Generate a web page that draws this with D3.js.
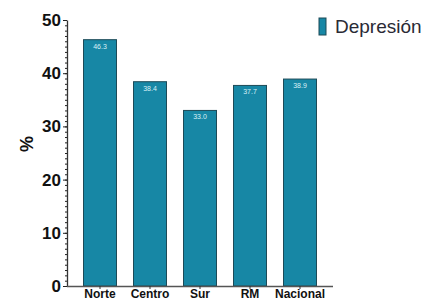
<!DOCTYPE html>
<html>
<head>
<meta charset="utf-8">
<script src="https://cdn.jsdelivr.net/npm/d3@7"></script>
<style>
  body { margin: 0; background: #fff; }
  svg { display: block; font-family: "Liberation Sans", Arial, sans-serif; }
</style>
</head>
<body>
<svg width="431" height="301"></svg>
<script>
// data
var regions = ['Norte', 'Centro', 'Sur', 'RM', 'Nacional'];
var depresion = [46.3, 38.4, 33.0, 37.7, 38.9];
var yTicks = [0, 10, 20, 30, 40, 50];

var svg = d3.select('svg');

var x = d3.scaleBand()
    .domain(regions)
    .range([75, 325])
    .paddingInner(0.34)
    .paddingOuter(0.17);

var y = d3.scaleLinear()
    .domain([0, 50])
    .range([286, 20]);

// minor ticks, every 1 %
svg.append('g')
    .attr('transform', 'translate(67,0)')
    .call(d3.axisLeft(y).tickValues(d3.range(0, 51, 1)).tickSize(2).tickFormat(''))
    .call(function (g) { g.select('.domain').remove(); })
    .selectAll('line').attr('stroke', '#222');

// y axis
var yAxis = svg.append('g')
    .attr('transform', 'translate(67,0)')
    .call(d3.axisLeft(y).tickValues(yTicks).tickSize(4).tickPadding(2).tickSizeOuter(0));
yAxis.select('.domain').attr('stroke', '#333').attr('stroke-width', 1.3);
yAxis.selectAll('.tick line').attr('stroke', '#222');
yAxis.selectAll('.tick text')
    .attr('font-size', 17)
    .attr('font-weight', 'bold')
    .attr('fill', '#111')
    .attr('font-family', '"Liberation Sans", Arial, sans-serif');

svg.append('text')
    .attr('transform', 'translate(33,144) rotate(-90)')
    .attr('text-anchor', 'middle')
    .attr('font-size', 18)
    .attr('font-weight', 'bold')
    .attr('fill', '#111')
    .text('%');

// bars
svg.append('g').selectAll('rect')
    .data(depresion)
    .join('rect')
    .attr('x', function (d, i) { return x(regions[i]); })
    .attr('y', function (d) { return y(d); })
    .attr('width', x.bandwidth())
    .attr('height', function (d) { return y(0) - y(d); })
    .attr('fill', '#1787a5')
    .attr('stroke', '#1d4a57')
    .attr('stroke-width', 1);

// value labels
svg.append('g').selectAll('text')
    .data(depresion)
    .join('text')
    .attr('x', function (d, i) { return x(regions[i]) + x.bandwidth() / 2; })
    .attr('y', function (d) { return y(d) + 9; })
    .attr('text-anchor', 'middle')
    .attr('font-size', 7)
    .attr('fill', '#d8f0f6')
    .text(function (d) { return d.toFixed(1); });

// x axis
var xAxis = svg.append('g')
    .attr('transform', 'translate(0,286)')
    .call(d3.axisBottom(x).tickSize(3).tickPadding(0).tickSizeOuter(0));
xAxis.select('.domain').attr('d', 'M67,0.5H333').attr('stroke', '#555').attr('stroke-width', 1.3);
xAxis.selectAll('.tick line').attr('stroke', '#333');
xAxis.selectAll('.tick text')
    .attr('dy', null)
    .attr('y', 12)
    .attr('font-size', 12)
    .attr('font-weight', 'bold')
    .attr('fill', '#111')
    .attr('font-family', '"Liberation Sans", Arial, sans-serif');

// legend
svg.append('rect')
    .attr('x', 319).attr('y', 18)
    .attr('width', 7).attr('height', 17)
    .attr('fill', '#1787a5')
    .attr('stroke', '#1d4a57');
svg.append('text')
    .attr('x', 335).attr('y', 33)
    .attr('font-size', 19)
    .attr('fill', '#2a2a35')
    .text('Depresión');
</script>
</body>
</html>
